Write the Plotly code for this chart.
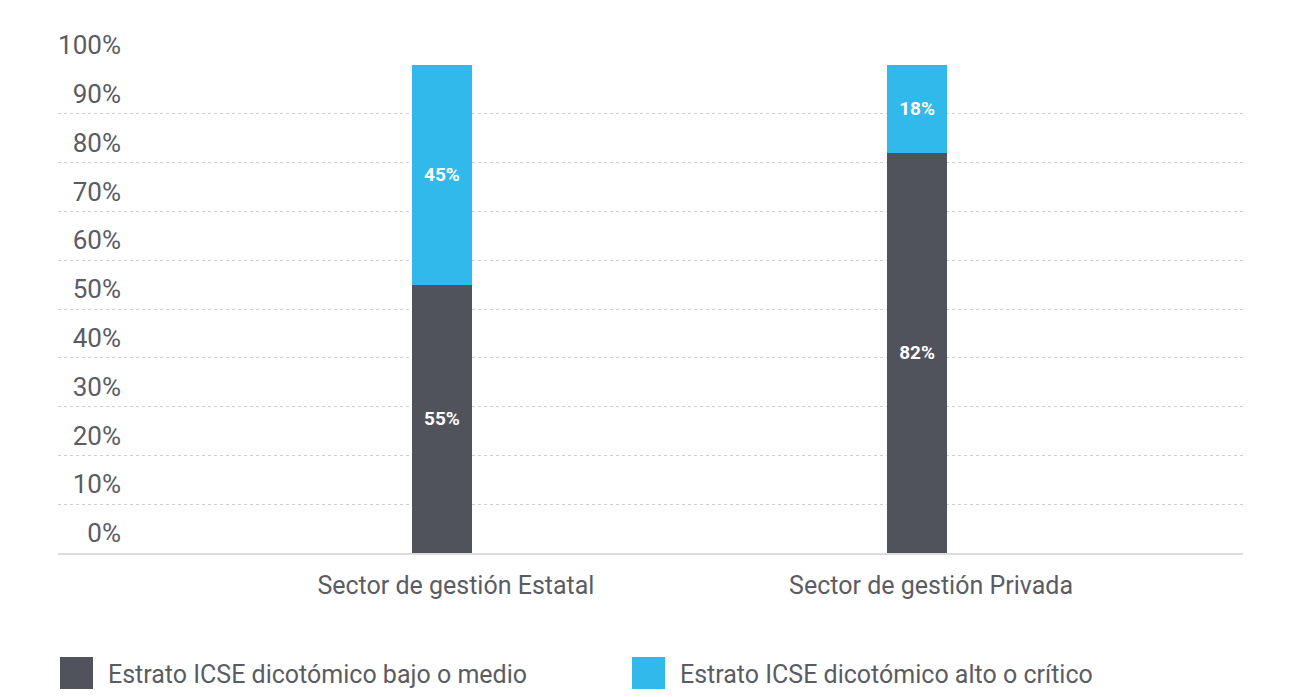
import plotly.graph_objects as go

categories = ["Sector de gestión Estatal", "Sector de gestión Privada"]
bajo_medio = [55, 82]
alto_critico = [45, 18]
series_names = ["Estrato ICSE dicotómico bajo o medio", "Estrato ICSE dicotómico alto o crítico"]
y_ticks = [0, 10, 20, 30, 40, 50, 60, 70, 80, 90, 100]
y_tick_labels = [f"{v}%" for v in y_ticks]

DARK = "#50535c"
BLUE = "#30b9ea"
TEXT = "#5b5c63"
BG = "#ffffff"
FONT = "Roboto"

OFF = 8  # page body margin
W, H = 1289 - 2 * OFF, 697 - 2 * OFF
L, T = 58 - OFF, 65 - OFF
R = W - (1243 - OFF)
B = H - (553 - OFF)
pw, ph = W - L - R, H - T - B

fig = go.Figure()
for name, vals, col in [(series_names[0], bajo_medio, DARK), (series_names[1], alto_critico, BLUE)]:
    fig.add_trace(go.Bar(
        x=categories, y=vals, name=name, marker_color=col, marker_line_width=0,
        width=0.126, text=[f"{v}%" for v in vals], texttemplate="%{text}",
        textposition="inside", insidetextanchor="middle",
        textfont=dict(family=FONT, size=19, color="white", weight="bold"),
        showlegend=False,
    ))

# custom legend (large square swatches); coordinates in screen px
def px(x):
    return (x - OFF - L) / pw

def py(y):
    return (H - B - (y - OFF)) / ph

legend_items = [(series_names[0], DARK, 60), (series_names[1], BLUE, 632)]
for name, col, x0 in legend_items:
    fig.add_shape(type="rect", xref="paper", yref="paper",
                  x0=px(x0), x1=px(x0 + 33), y0=py(689), y1=py(657),
                  fillcolor=col, line_width=0)
    fig.add_annotation(xref="paper", yref="paper", x=px(x0 + 46), y=py(674),
                       text=name, showarrow=False, xanchor="left", yanchor="middle",
                       font=dict(family=FONT, size=25, color=TEXT))

fig.update_layout(
    width=W, height=H, barmode="stack",
    margin=dict(l=L, r=R, t=T, b=B, autoexpand=False),
    paper_bgcolor=BG, plot_bgcolor=BG,
    font=dict(family=FONT, color=TEXT),
)
fig.update_xaxes(
    type="category", range=[-0.808, 1.686], showgrid=False,
    showline=True, linecolor="#dcdcde", linewidth=2,
    ticks="", tickfont=dict(family=FONT, size=25, color=TEXT),
    ticklabelshift=14, ticklabelstandoff=9, automargin=False,
)
fig.update_yaxes(
    range=[0, 100], tickvals=y_ticks, ticktext=y_tick_labels,
    showgrid=True, gridcolor="#cfcfd2", griddash="dot", gridwidth=1,
    zeroline=False, showline=False, ticks="",
    tickfont=dict(family=FONT, size=26, color=TEXT),
    ticklabelposition="outside", ticklabelstandoff=-64, ticklabelshift=-20,
    automargin=False,
)

fig.write_html("out.html")
